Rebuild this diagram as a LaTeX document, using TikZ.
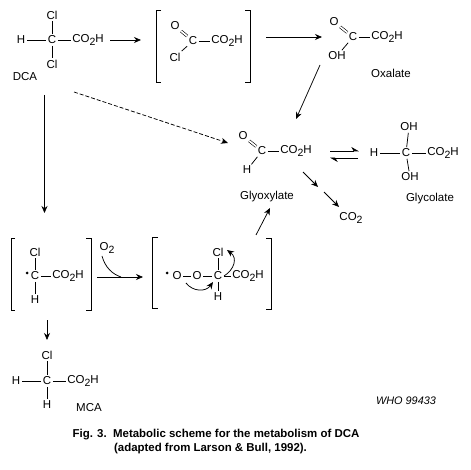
\documentclass[tikz,border=0pt]{standalone}
\usepackage{fontspec}
\setmainfont{Liberation Sans}
\usepackage{tikz}
\usetikzlibrary{arrows.meta}
\newcommand{\cotwoh}{CO\raisebox{-2.5pt}{\fontsize{10.5}{10.5}\selectfont 2}H}
\newcommand{\cotwo}{CO\raisebox{-2.5pt}{\fontsize{10.5}{10.5}\selectfont 2}}
\tikzset{
atom/.style={inner sep=1.5pt,font=\fontsize{11.5}{11.5}\selectfont},
molname/.style={inner sep=0pt,font=\fontsize{11.5}{11.5}\selectfont},
bond/.style={line width=0.75pt},
dbond/.style={line width=0.6pt,double,double distance=1.7pt},
rarrow/.style={line width=0.75pt,-{Stealth[length=7pt,width=6pt]}},
brk/.style={line width=0.75pt},
}
\begin{document}
\begin{tikzpicture}[x=1pt,y=-1pt]
\useasboundingbox (0,0) rectangle (471,470);
\node[atom] (dcaC) at (52,40) {C};
\node[atom] (dcaT) at (52,15) {Cl};
\node[atom] (dcaB) at (52,64) {Cl};
\node[atom] (dcaH) at (21,40) {H};
\node[atom] (dcaA) at (88,40) {\cotwoh};
\node[molname] (dcaL) at (25,77) {DCA};
\draw[bond] (dcaC)--(dcaT);
\draw[bond] (dcaC)--(dcaB);
\draw[bond] (dcaC)--(dcaH);
\draw[bond] (dcaC)--(dcaA);
\draw[brk] (161,10)--(156,10)--(156,82)--(161,82);
\node[atom] (acyC) at (193,41) {C};
\node[atom] (acyO) at (175,26) {O};
\node[atom] (acyX) at (175,57) {Cl};
\node[atom] (acyA) at (227,41) {\cotwoh};
\draw[dbond] (acyC)--(acyO);
\draw[bond] (acyC)--(acyX);
\draw[bond] (acyC)--(acyA);
\draw[brk] (245,10)--(250,10)--(250,82)--(245,82);
\node[atom] (oxaC) at (353,37) {C};
\node[atom] (oxaO) at (334,22) {O};
\node[atom] (oxaH) at (337,56) {OH};
\node[atom] (oxaA) at (387,37) {\cotwoh};
\node[molname] (oxaL) at (391,73) {Oxalate};
\draw[dbond] (oxaC)--(oxaO);
\draw[bond] (oxaC)--(oxaH);
\draw[bond] (oxaC)--(oxaA);
\node[atom] (glyC) at (262,151) {C};
\node[atom] (glyO) at (243,136) {O};
\node[atom] (glyH) at (247,170) {H};
\node[atom] (glyA) at (296,151) {\cotwoh};
\node[molname] (glyL) at (267,197) {Glyoxylate};
\draw[dbond] (glyC)--(glyO);
\draw[bond] (glyC)--(glyH);
\draw[bond] (glyC)--(glyA);
\node[atom] (glcC) at (406,153) {C};
\node[atom] (glcT) at (409,127) {OH};
\node[atom] (glcB) at (410,177) {OH};
\node[atom] (glcH) at (374,153) {H};
\node[atom] (glcA) at (443,153) {\cotwoh};
\node[molname] (glcL) at (430,199) {Glycolate};
\draw[bond] (glcC)--(glcT);
\draw[bond] (glcC)--(glcB);
\draw[bond] (glcC)--(glcH);
\draw[bond] (glcC)--(glcA);
\node[atom] (co2) at (351,218) {\cotwo};
\draw[brk] (15,238)--(11,238)--(11,310)--(15,310);
\node[atom] (radC) at (35,276) {C};
\node[atom] (radT) at (35,252) {Cl};
\node[atom] (radH) at (35,300) {H};
\node[atom] (radA) at (68,276) {\cotwoh};
\fill (27,273) circle (1.5pt);
\draw[bond] (radC)--(radT);
\draw[bond] (radC)--(radH);
\draw[bond] (radC)--(radA);
\draw[brk] (86,238)--(91,238)--(91,310)--(86,310);
\node[atom] (oxy) at (107,248) {O\raisebox{-2.5pt}{\fontsize{10.5}{10.5}\selectfont 2}};
\draw[brk] (158,237)--(152,237)--(152,308)--(158,308);
\fill (167,273) circle (1.5pt);
\node[atom] (perP) at (177,276) {O};
\node[atom] (perQ) at (197,276) {O};
\node[atom] (perC) at (218,276) {C};
\node[atom] (perT) at (218,252) {Cl};
\node[atom] (perH) at (218,297) {H};
\node[atom] (perA) at (248,276) {\cotwoh};
\draw[bond] (perP)--(perQ);
\draw[bond] (perQ)--(perC);
\draw[bond] (perC)--(perT);
\draw[bond] (perC)--(perH);
\draw[bond] (perC)--(perA);
\draw[brk] (266,238)--(271,238)--(271,309)--(266,309);
\node[atom] (mcaC) at (47,381) {C};
\node[atom] (mcaT) at (47,355) {Cl};
\node[atom] (mcaX) at (16,381) {H};
\node[atom] (mcaH) at (47,405) {H};
\node[atom] (mcaA) at (83,381) {\cotwoh};
\node[molname] (mcaL) at (89,408) {MCA};
\draw[bond] (mcaC)--(mcaT);
\draw[bond] (mcaC)--(mcaX);
\draw[bond] (mcaC)--(mcaH);
\draw[bond] (mcaC)--(mcaA);
\coordinate (s1) at (110,40);
\coordinate (e1) at (141,40);
\coordinate (s2) at (266,37);
\coordinate (e2) at (322,37);
\coordinate (s3) at (320,65);
\coordinate (e3) at (296,119);
\coordinate (s4) at (74,92);
\coordinate (e4) at (228,143);
\coordinate (s5) at (44.5,95);
\coordinate (e5) at (44.5,213);
\coordinate (s6) at (97,277);
\coordinate (e6) at (143,277);
\coordinate (s7) at (47,320);
\coordinate (e7) at (47,340);
\coordinate (s8) at (256,235);
\coordinate (e8) at (270,208);
\coordinate (s9) at (303,172);
\coordinate (e9) at (318,187);
\coordinate (s10) at (324,192);
\coordinate (e10) at (339,207);
\coordinate (s11) at (330,151);
\coordinate (e11) at (359,151);
\coordinate (s12) at (358,158);
\coordinate (e12) at (330,158);
\draw[rarrow] (s1)--(e1);
\draw[rarrow] (s2)--(e2);
\draw[rarrow] (s3)--(e3);
\draw[rarrow,dash pattern=on 4pt off 2pt] (s4)--(e4);
\draw[rarrow] (s5)--(e5);
\draw[rarrow] (s6)--(e6);
\draw[rarrow] (s7)--(e7);
\draw[rarrow] (s8)--(e8);
\draw[rarrow] (s9)--(e9);
\draw[rarrow] (s10)--(e10);
\draw[line width=0.75pt,-{Stealth[length=7pt,width=8pt,left]}] (s11)--(e11);
\draw[line width=0.75pt,-{Stealth[length=7pt,width=8pt,left]}] (s12)--(e12);
\coordinate (c1) at (102,256);
\coordinate (c2) at (121,277);
\draw[bond] (c1) .. controls (105,267) and (112,274) .. (c2);
\coordinate (c3) at (186,283);
\coordinate (c4) at (213,282);
\draw[rarrow] (c3) .. controls (193,292) and (206,292) .. (c4);
\coordinate (c5) at (224,276);
\coordinate (c6) at (227,250);
\draw[rarrow] (c5) .. controls (234,270) and (238,258) .. (c6);
\node[inner sep=0pt,font=\fontsize{10.9}{10.9}\selectfont\itshape] (who) at (406,401) {WHO 99433};
\node[inner sep=0pt,font=\fontsize{11.45}{11.45}\selectfont\bfseries] (capA) at (216,435) {Fig. 3.\ \ Metabolic scheme for the metabolism of DCA};
\node[inner sep=0pt,font=\fontsize{11.45}{11.45}\selectfont\bfseries] (capB) at (210.5,449) {(adapted from Larson \& Bull, 1992).};
\end{tikzpicture}
\end{document}
